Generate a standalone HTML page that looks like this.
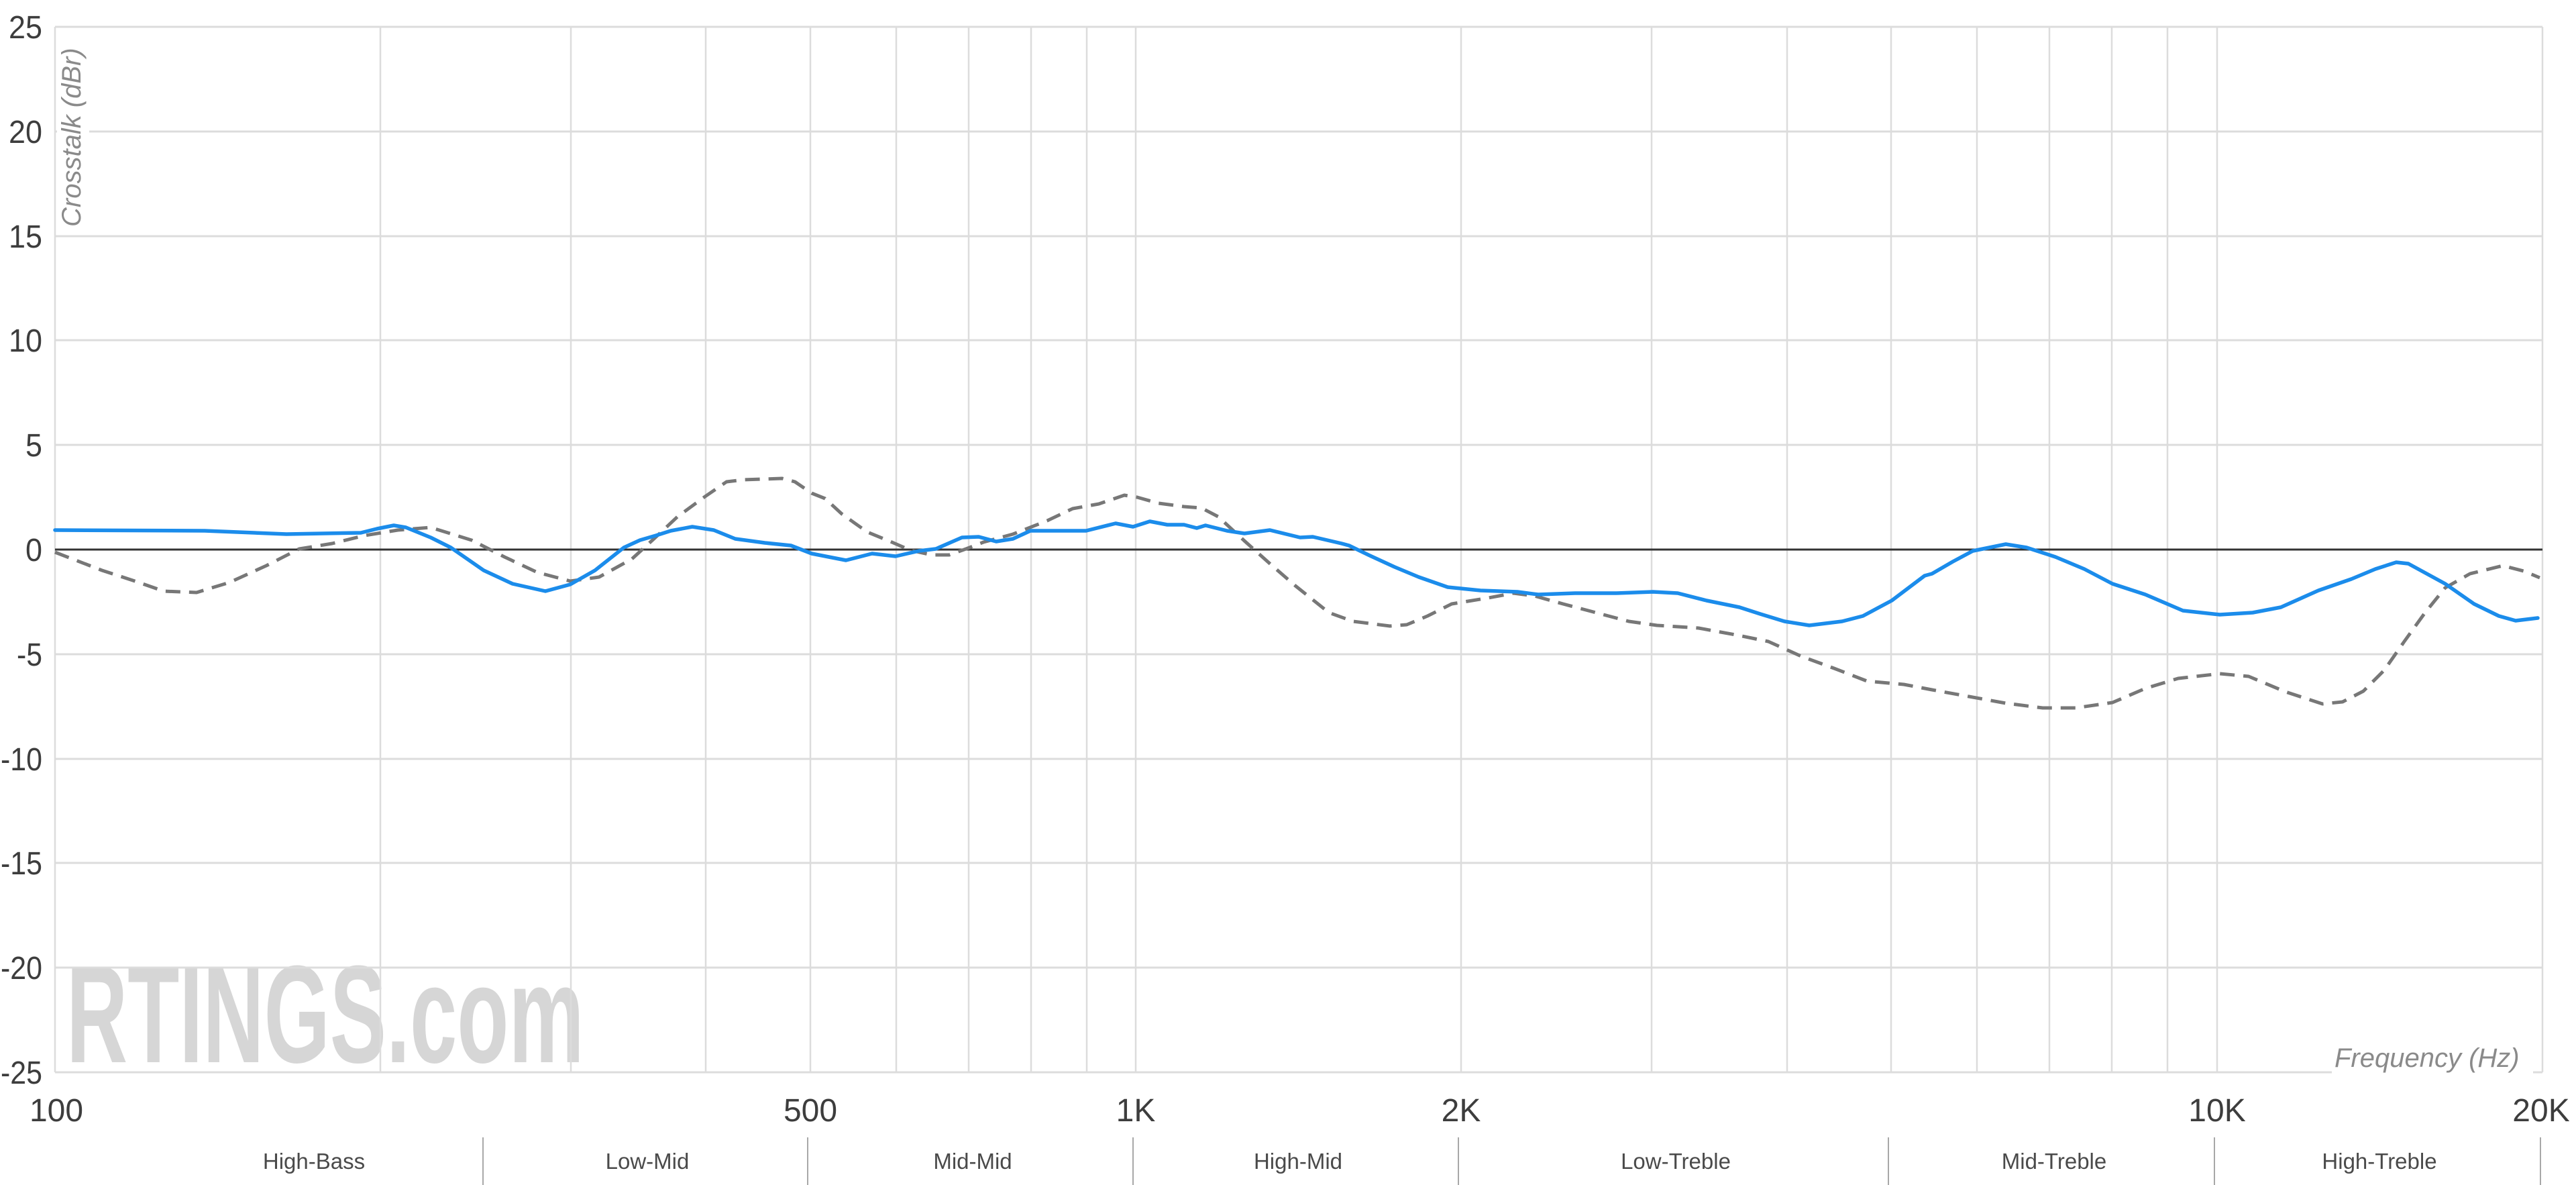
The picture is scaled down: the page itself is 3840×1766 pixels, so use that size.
<!DOCTYPE html>
<html>
<head>
<meta charset="utf-8">
<style>
  html, body { margin:0; padding:0; background:#ffffff; }
  body { width:3840px; height:1766px; overflow:hidden; }
  svg { display:block; }
  text { font-family:"Liberation Sans", sans-serif; }
</style>
</head>
<body>
<svg width="3840" height="1766" viewBox="0 0 3840 1766" xmlns="http://www.w3.org/2000/svg">
  <rect x="0" y="0" width="3840" height="1766" fill="#ffffff"/>

  <!-- watermark -->
  <text x="99" y="1583" font-size="207" font-weight="bold" fill="#d6d6d6" transform="translate(99 0) scale(0.61 1) translate(-99 0)">RTINGS.com</text>

  <!-- horizontal gridlines -->
  <g stroke="#dcdcdc" stroke-width="3">
    <line x1="82" y1="40" x2="3790" y2="40"/>
    <line x1="82" y1="196" x2="3790" y2="196"/>
    <line x1="82" y1="352" x2="3790" y2="352"/>
    <line x1="82" y1="507" x2="3790" y2="507"/>
    <line x1="82" y1="663" x2="3790" y2="663"/>
    <line x1="82" y1="975" x2="3790" y2="975"/>
    <line x1="82" y1="1131" x2="3790" y2="1131"/>
    <line x1="82" y1="1286" x2="3790" y2="1286"/>
    <line x1="82" y1="1442" x2="3790" y2="1442"/>
    <line x1="82" y1="1598" x2="3790" y2="1598"/>
  </g>
  <!-- vertical gridlines -->
  <g stroke="#dcdcdc" stroke-width="2.5">
    <line x1="82" y1="40" x2="82" y2="1598"/>
    <line x1="567" y1="40" x2="567" y2="1598"/>
    <line x1="851" y1="40" x2="851" y2="1598"/>
    <line x1="1052" y1="40" x2="1052" y2="1598"/>
    <line x1="1208" y1="40" x2="1208" y2="1598"/>
    <line x1="1336" y1="40" x2="1336" y2="1598"/>
    <line x1="1444" y1="40" x2="1444" y2="1598"/>
    <line x1="1537" y1="40" x2="1537" y2="1598"/>
    <line x1="1620" y1="40" x2="1620" y2="1598"/>
    <line x1="1693" y1="40" x2="1693" y2="1598"/>
    <line x1="2178" y1="40" x2="2178" y2="1598"/>
    <line x1="2462" y1="40" x2="2462" y2="1598"/>
    <line x1="2664" y1="40" x2="2664" y2="1598"/>
    <line x1="2819" y1="40" x2="2819" y2="1598"/>
    <line x1="2947" y1="40" x2="2947" y2="1598"/>
    <line x1="3055" y1="40" x2="3055" y2="1598"/>
    <line x1="3148" y1="40" x2="3148" y2="1598"/>
    <line x1="3231" y1="40" x2="3231" y2="1598"/>
    <line x1="3305" y1="40" x2="3305" y2="1598"/>
    <line x1="3790" y1="40" x2="3790" y2="1598"/>
  </g>

  <!-- axis title backgrounds -->
  <rect x="85" y="66" width="48" height="280" fill="#ffffff"/>
  <rect x="3476" y="1546" width="300" height="56" fill="#ffffff"/>

  <!-- axis titles -->
  <text x="0" y="0" font-size="40" font-style="italic" fill="#8a8a8a" transform="translate(120 338) rotate(-90)">Crosstalk (dBr)</text>
  <text x="3480" y="1590" font-size="40" font-style="italic" fill="#8a8a8a">Frequency (Hz)</text>

  <!-- zero line -->
  <line x1="82" y1="819" x2="3790" y2="819" stroke="#333333" stroke-width="3"/>

  <!-- dashed series -->
  <polyline fill="none" stroke="#777777" stroke-width="5" stroke-dasharray="22 13" stroke-linejoin="round"
    points="82,823 152,850 201,866 244,881 293,883 342,868 397,843 446,818 495,810 544,798 593,790 642,786 703,805 752,830 801,853 850,866 893,860 942,833 978,800 1010,770 1051,740 1083,718 1108,715 1166,713 1185,718 1210,735 1230,743 1255,766 1293,793 1325,806 1357,820 1389,827 1415,827 1440,818 1466,808 1510,796 1561,776 1599,758 1638,751 1676,738 1695,741 1727,750 1765,755 1791,757 1816,770 1855,806 1893,840 1931,873 1956,893 1981,913 2017,926 2072,933 2097,931 2128,918 2164,900 2219,891 2256,884 2287,888 2330,900 2379,913 2428,926 2470,932 2532,936 2587,946 2636,956 2685,978 2734,996 2783,1015 2838,1020 2880,1028 2935,1038 2990,1048 3045,1055 3094,1055 3149,1047 3198,1026 3247,1011 3309,1004 3352,1008 3407,1031 3462,1049 3492,1046 3523,1030 3554,999 3584,956 3615,913 3645,876 3682,855 3731,843 3762,851 3786,861"/>

  <!-- blue series -->
  <polyline fill="none" stroke="#1b8ceb" stroke-width="5.5" stroke-linejoin="round" stroke-linecap="round"
    points="82,790 305,791 427,796 538,794 562,788 587,783 605,786 642,801 672,816 721,850 764,870 813,881 850,871 887,850 930,816 954,805 978,798 1000,791 1032,785 1064,790 1096,803 1140,809 1179,813 1210,825 1261,835 1300,825 1335,829 1370,821 1395,818 1434,801 1459,800 1485,807 1510,803 1536,791 1574,791 1619,791 1663,780 1689,785 1714,777 1740,782 1765,782 1784,787 1797,783 1829,791 1855,795 1893,790 1938,801 1957,800 2000,810 2011,813 2042,828 2079,845 2115,860 2158,875 2207,880 2262,882 2293,886 2348,884 2409,884 2464,882 2501,884 2544,895 2593,905 2624,915 2660,926 2697,932 2746,926 2777,918 2820,895 2869,858 2880,855 2911,837 2941,821 2990,811 3021,816 3064,830 3107,848 3149,870 3198,886 3254,910 3309,916 3358,913 3400,905 3456,880 3505,863 3541,848 3572,838 3590,840 3645,870 3688,900 3725,918 3750,925 3783,921"/>

  <!-- y axis labels -->
  <g font-size="48" fill="#3d3d3d">
    <text x="13" y="57" textLength="50" lengthAdjust="spacingAndGlyphs">25</text>
    <text x="13" y="213" textLength="50" lengthAdjust="spacingAndGlyphs">20</text>
    <text x="13" y="369" textLength="50" lengthAdjust="spacingAndGlyphs">15</text>
    <text x="13" y="524" textLength="50" lengthAdjust="spacingAndGlyphs">10</text>
    <text x="38" y="680" textLength="25" lengthAdjust="spacingAndGlyphs">5</text>
    <text x="38" y="836" textLength="25" lengthAdjust="spacingAndGlyphs">0</text>
    <text x="25" y="992" textLength="38" lengthAdjust="spacingAndGlyphs">-5</text>
    <text x="1" y="1148" textLength="62" lengthAdjust="spacingAndGlyphs">-10</text>
    <text x="1" y="1303" textLength="62" lengthAdjust="spacingAndGlyphs">-15</text>
    <text x="1" y="1459" textLength="62" lengthAdjust="spacingAndGlyphs">-20</text>
    <text x="1" y="1615" textLength="62" lengthAdjust="spacingAndGlyphs">-25</text>
  </g>

  <!-- x axis labels -->
  <g font-size="48" fill="#3d3d3d" text-anchor="middle">
    <text x="84" y="1671">100</text>
    <text x="1208" y="1671">500</text>
    <text x="1693" y="1671">1K</text>
    <text x="2178" y="1671">2K</text>
    <text x="3305" y="1671">10K</text>
    <text x="3788" y="1671">20K</text>
  </g>

  <!-- band separators -->
  <g stroke="#a8a8a8" stroke-width="2">
    <line x1="720" y1="1695" x2="720" y2="1766"/>
    <line x1="1204" y1="1695" x2="1204" y2="1766"/>
    <line x1="1689" y1="1695" x2="1689" y2="1766"/>
    <line x1="2174" y1="1695" x2="2174" y2="1766"/>
    <line x1="2815" y1="1695" x2="2815" y2="1766"/>
    <line x1="3301" y1="1695" x2="3301" y2="1766"/>
    <line x1="3787" y1="1695" x2="3787" y2="1766"/>
  </g>

  <!-- band labels -->
  <g font-size="33" fill="#4a4a4a" text-anchor="middle">
    <text x="468" y="1742">High-Bass</text>
    <text x="965" y="1742">Low-Mid</text>
    <text x="1450" y="1742">Mid-Mid</text>
    <text x="1935" y="1742">High-Mid</text>
    <text x="2498" y="1742">Low-Treble</text>
    <text x="3062" y="1742">Mid-Treble</text>
    <text x="3547" y="1742">High-Treble</text>
  </g>
</svg>
</body>
</html>
